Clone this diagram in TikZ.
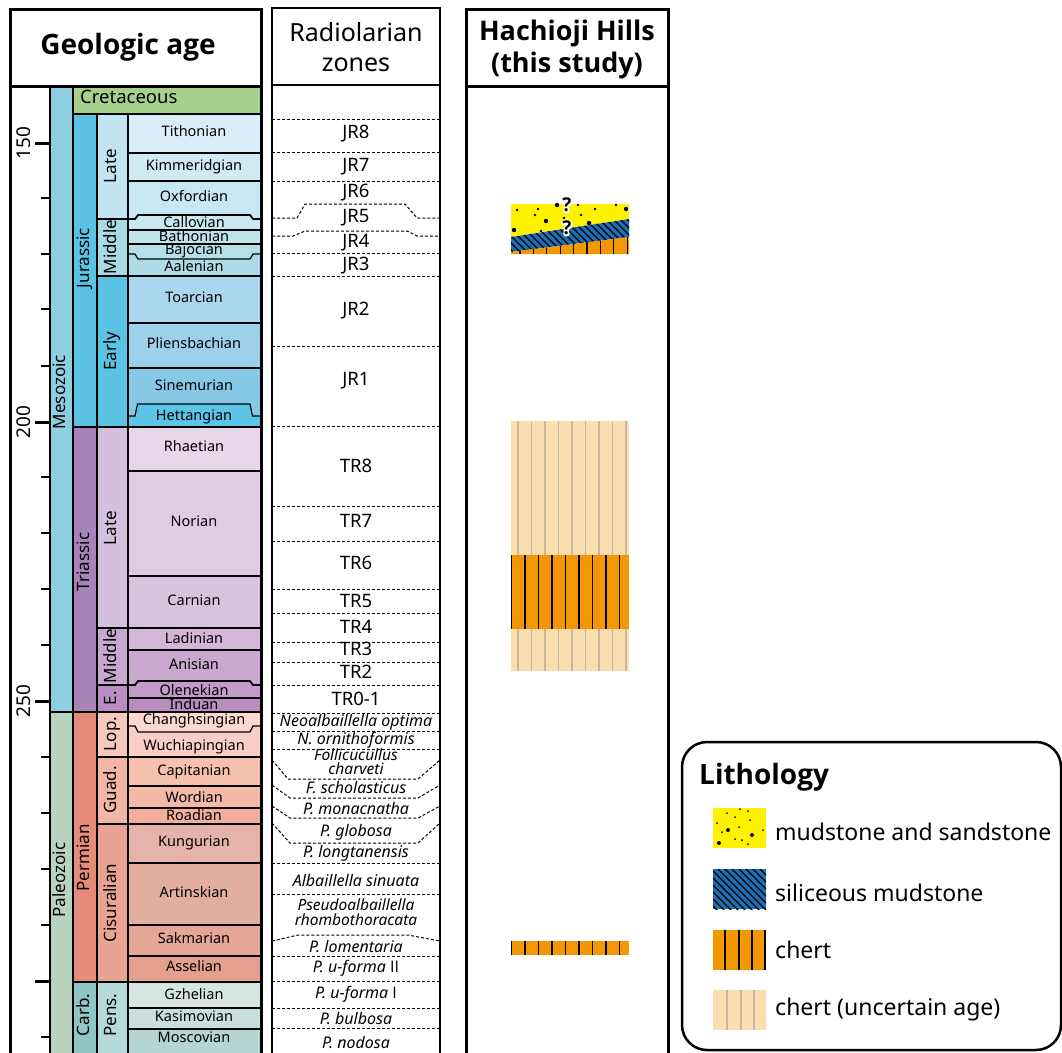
\documentclass[tikz,border=0pt]{standalone}
\usepackage{fontspec}
\setmainfont{Noto Sans}
\newfontfamily\bff{Open Sans}
\newfontfamily\halofont{Open Sans}[BoldFeatures={FakeBold=16}]
\definecolor{meso}{HTML}{8DCFE0}
\definecolor{paleo}{HTML}{B9D3C1}
\definecolor{cret}{HTML}{A8D08D}
\definecolor{jur}{HTML}{5AC3E3}
\definecolor{ljur}{HTML}{C3E4F3}
\definecolor{mjur}{HTML}{A8DAE4}
\definecolor{ejur}{HTML}{5AC3E3}
\definecolor{tith}{HTML}{D9EEF9}
\definecolor{kimm}{HTML}{CFE9F5}
\definecolor{oxf}{HTML}{C9E6F4}
\definecolor{callov}{HTML}{C8E8EF}
\definecolor{bathon}{HTML}{BFE4EC}
\definecolor{bajoc}{HTML}{B5DFE9}
\definecolor{aalen}{HTML}{ADDBE7}
\definecolor{toarc}{HTML}{ABD7EE}
\definecolor{pliens}{HTML}{9DD1EA}
\definecolor{sinem}{HTML}{88C8E7}
\definecolor{hett}{HTML}{5CC4E6}
\definecolor{tri}{HTML}{A883B8}
\definecolor{ltri}{HTML}{D3C0DE}
\definecolor{mtri}{HTML}{C9A7D1}
\definecolor{etri}{HTML}{B98DC1}
\definecolor{rhaet}{HTML}{E7D7E9}
\definecolor{nor}{HTML}{DFCCE3}
\definecolor{carn}{HTML}{D7C2DF}
\definecolor{ladin}{HTML}{D5B6D9}
\definecolor{anis}{HTML}{CBA8D0}
\definecolor{olen}{HTML}{C29BC8}
\definecolor{ind}{HTML}{B98DC0}
\definecolor{perm}{HTML}{E68B79}
\definecolor{lop}{HTML}{F7C9BD}
\definecolor{guad}{HTML}{F3B5A6}
\definecolor{cis}{HTML}{E9A393}
\definecolor{chang}{HTML}{FBD9D0}
\definecolor{wuch}{HTML}{F9CFC5}
\definecolor{capit}{HTML}{F6C0AF}
\definecolor{word}{HTML}{F5B9A8}
\definecolor{road}{HTML}{F3AF9E}
\definecolor{kung}{HTML}{E5B3A9}
\definecolor{artin}{HTML}{E3AEA0}
\definecolor{sakm}{HTML}{E4A697}
\definecolor{assel}{HTML}{E3A08F}
\definecolor{carb}{HTML}{8FC6C6}
\definecolor{pens}{HTML}{B6D9D9}
\definecolor{gzhel}{HTML}{D7E5E2}
\definecolor{kasim}{HTML}{C9DFDD}
\definecolor{mosc}{HTML}{B4D5D1}
\definecolor{yel}{HTML}{FFF200}
\definecolor{sil}{HTML}{1F6EB4}
\definecolor{chert}{HTML}{F39800}
\definecolor{chertu}{HTML}{FADEB0}
\definecolor{chertul}{HTML}{C9B79B}
\newcommand\qmark{\makebox[0pt]{\halofont\bfseries\color{white}?}\makebox[0pt]{\bff\bfseries ?}}
\def\stagelist{Tithonian/114/153/tith/133,Kimmeridgian/153/181/kimm/167,Oxfordian/181/219/oxf/198,Callovian/219/230/callov/224,Bathonian/230/244/bathon/238,Bajocian/244/254/bajoc/251,Aalenian/254/276/aalen/268,Toarcian/276/323/toarc/299,Pliensbachian/323/368/pliens/345,Sinemurian/368/416/sinem/387,Hettangian/416/427/hett/417,Rhaetian/427/471/rhaet/448,Norian/471/576/nor/523,Carnian/576/628/carn/602,Ladinian/628/650/ladin/640,Anisian/650/685/anis/666,Olenekian/685/698/olen/692,Induan/698/712/ind/706,Changhsingian/712/726/chang/721,Wuchiapingian/726/757/wuch/747,Capitanian/757/786/capit/772,Wordian/786/808/word/799,Roadian/808/824/road/817,Kungurian/824/863/kung/843,Artinskian/863/925/artin/894,Sakmarian/925/956/sakm/940,Asselian/956/982/assel/968,Gzhelian/982/1008/gzhel/996,Kasimovian/1008/1029/kasim/1018,Moscovian/1029/1060/mosc/1039}
\def\epochlist{LJ/114/219/ljur/166/Late,MJ/219/276/mjur/247/Middle,EJ/276/427/ejur/351/Early,LT/427/628/ltri/528/Late,MT/628/685/mtri/656/Middle,ET/685/712/etri/698/E.,Lop/712/757/lop/734/Lop.,Guad/757/824/guad/790/Guad.,Cis/824/982/cis/903/Cisuralian,Pens/982/1060/pens/1015/Pens.}
\def\periodlist{Jur/114/427/jur/258/Jurassic,Tri/427/712/tri/562/Triassic,Perm/712/982/perm/858/Permian,Carb/982/1060/carb/1015/Carb.}
\def\eralist{Meso/86/712/meso/392/Mesozoic,Paleo/712/1060/paleo/880/Paleozoic}
\begin{document}
\begin{tikzpicture}[x=1pt,y=-1pt,
  thk/.style={line width=2.5pt},
  thn/.style={line width=1.2pt},
  dsh/.style={line width=1pt,dash pattern=on 3pt off 2pt},
  stg/.style={font=\fontsize{14.5}{16}\selectfont,inner sep=0pt,text height=0.72em,text depth=0pt},
  rot/.style={rotate=90,font=\fontsize{17}{19}\selectfont,inner sep=0pt,text height=0.72em,text depth=0pt},
  rz/.style={font=\fontsize{18.5}{20}\selectfont,inner sep=0pt,text height=0.72em,text depth=0pt},
  rzi/.style={font=\fontsize{16}{13}\selectfont\itshape,inner sep=0pt,align=center},
  rzs/.style={font=\fontsize{15.5}{13}\selectfont\itshape,inner sep=0pt,text height=0.72em,text depth=0pt},
  lg/.style={font=\fontsize{23}{26}\selectfont,anchor=west,inner sep=0pt},
  qm/.style={font=\fontsize{19}{20}\selectfont,inner sep=0pt},
]
\useasboundingbox (0,0) rectangle (1062,1052);
\clip (0,0) rectangle (1062,1052);
\fill[white] (0,0) rectangle (1062,1052);
% ---------- fills of the time scale
\foreach \n/\t/\b/\c/\ly in \stagelist {\fill[fill=\c] (128,\t) rectangle (260,\b);}
\fill[callov] (137,215) rectangle (251,219);
\fill[bajoc] (137,254) rectangle (251,259);
\fill[hett] (137,404) rectangle (251,416);
\fill[olen] (137,681) rectangle (251,685);
\fill[chang] (137,726) rectangle (251,732);
\foreach \n/\t/\b/\c/\ly/\tx in \epochlist {\fill[fill=\c] (97,\t) rectangle (128,\b);}
\foreach \n/\t/\b/\c/\ly/\tx in \periodlist {\fill[fill=\c] (73,\t) rectangle (97,\b);}
\foreach \n/\t/\b/\c/\ly/\tx in \eralist {\fill[fill=\c] (50,\t) rectangle (73,\b);}
\fill[cret] (73,86) rectangle (260,114);
% ---------- labels
\foreach \n/\t/\b/\c/\ly in \stagelist {\node[stg] (\n) at (194,\ly) {\n};}
\foreach \n/\t/\b/\c/\ly/\tx in \epochlist {\node[rot] (\n) at (113,\ly) {\tx};}
\foreach \n/\t/\b/\c/\ly/\tx in \periodlist {\node[rot] (\n) at (85.5,\ly) {\tx};}
\foreach \n/\t/\b/\c/\ly/\tx in \eralist {\node[rot] (\n) at (62,\ly) {\tx};}
\node[font=\fontsize{18.5}{20}\selectfont,anchor=west,inner sep=0pt,text height=0.72em,text depth=0pt] (Cret) at (80,100) {Cretaceous};
\node[font=\bff\fontsize{28}{30}\selectfont\bfseries,inner sep=0pt] (hGeo) at (128,47) {Geologic age};
% ---------- lines of the time scale
\foreach \y in {153,181,230,244,323,368,471,576,650,698,786,808,863,925,956,1008,1029}
  \draw[thn] (128,\y) -- (260,\y);
\draw[line width=1.8pt] (128,219) -- (135,219) -- (138,215) -- (250,215) -- (253,219) -- (260,219);
\draw[thn] (128,254) -- (135,254) -- (138,259) -- (250,259) -- (253,254) -- (260,254);
\draw[thn] (128,416) -- (135,416) -- (137.5,404) -- (250,404) -- (252.5,416) -- (260,416);
\draw[line width=1.8pt] (128,685) -- (135,685) -- (138,681) -- (250,681) -- (253,685) -- (260,685);
\draw[thn] (128,726) -- (135,726) -- (138,732) -- (250,732) -- (253,726) -- (260,726);
\draw[thk] (97,219) -- (128,219);
\draw[thk] (97,685) -- (128,685);
\foreach \y in {276,628,757,824} \draw[thk] (97,\y) -- (260,\y);
\foreach \y in {114,427,982} \draw[thk] (73,\y) -- (260,\y);
\draw[thk] (50,712) -- (260,712);
\draw[thk] (50,86) -- (50,1060);
\draw[thk] (73,86) -- (73,1060);
\draw[thk] (97,114) -- (97,1060);
\draw[thk] (128,114) -- (128,1060);
% ticks
\foreach \y in {198,254,309,366,477,533,589,645,757,813,869,925,1037} \draw[thk] (41,\y) -- (50,\y);
\foreach \y in {143,422,701,981} \draw[line width=3pt] (35,\y) -- (50,\y);
\node[rot,font=\fontsize{19}{21}\selectfont] (t150) at (27,143) {150};
\node[rot,font=\fontsize{19}{21}\selectfont] (t200) at (27,422) {200};
\node[rot,font=\fontsize{19}{21}\selectfont] (t250) at (27,701) {250};
% frame
\draw[line width=3pt] (10,9) rectangle (261,1070);
\draw[line width=3pt] (10,86) -- (261,86);
% ---------- radiolarian zones
\draw[line width=1.3pt] (272,8) rectangle (440,1070);
\draw[line width=1.3pt] (272,85) -- (440,85);
\node[font=\fontsize{25}{30}\selectfont,align=center,inner sep=0pt] (hRad) at (356,47) {Radiolarian\\zones};
\foreach \y in {119,152,181,253,276,346,426,506,541,589,613,642,662,685,713,731,749,863,894,956,981,1008,1028}
  \draw[dsh] (272,\y) -- (440,\y);
\draw[dsh] (272,218) -- (297,218) -- (305,204) -- (405,204) -- (417,218) -- (440,218);
\draw[dsh] (272,236) -- (293,236) -- (305,231) -- (407,231) -- (417,236) -- (440,236);
\draw[dsh] (272,760) -- (288,779) -- (418,779) -- (440,760);
\draw[dsh] (272,785) -- (290,798) -- (418,798) -- (440,785);
\draw[dsh] (272,806) -- (290,818) -- (418,818) -- (440,806);
\draw[dsh] (272,823) -- (290,843) -- (418,843) -- (440,823);
\draw[dsh] (272,941) -- (298,935) -- (408,935) -- (440,941);
\foreach \n/\y in {JR8/135,JR7/168,JR6/194,JR5/219,JR4/244,JR3/267,JR2/312,JR1/382,TR8/469,TR7/524,TR6/566,TR5/604,TR4/630,TR3/652,TR2/675,TR0-1/702}
  \node[rz] (z\n) at (356,\y) {\n};
\node[rzi] (r1) at (356,722) {Neoalbaillella optima};
\node[rzi] (r2) at (356,740) {N. ornithoformis};
\node[rzs] (r3a) at (356,757) {Follicucullus};
\node[rzs,text height=0.55em] (r3b) at (356,772) {charveti};
\node[rzi] (r4) at (356,788) {F. scholasticus};
\node[rzi] (r5) at (356,809) {P. monacnatha};
\node[rzi] (r6) at (356,832) {P. globosa};
\node[rzi] (r7) at (356,853) {P. longtanensis};
\node[rzi] (r8) at (356,880) {Albaillella sinuata};
\node[rzs] (r9a) at (356,907) {Pseudoalbaillella};
\node[rzs,text height=0.55em] (r9b) at (356,923) {rhombothoracata};
\node[rzi] (r10) at (356,947) {P. lomentaria};
\node[rzi] (r11) at (356,968) {P. u-forma {\bff\upshape II}};
\node[rzi] (r12) at (356,994) {P. u-forma {\bff\upshape I}};
\node[rzi] (r13) at (356,1019) {P. bulbosa};
\node[rzi] (r14) at (356,1043) {P. nodosa};
% ---------- Hachioji Hills column
\draw[line width=3pt] (466,9) rectangle (668,1070);
\draw[line width=3pt] (466,86) -- (668,86);
\node[font=\bff\fontsize{27}{32}\selectfont\bfseries,align=center,inner sep=0pt] (hHach) at (567,49) {Hachioji Hills\\(this study)};
% uncertain chert
\fill[chertu] (511,421) rectangle (629,671);
\foreach \k in {0,...,8} \draw[chertul,line width=1.2pt] (518+13.5*\k,421) -- (518+13.5*\k,671);
% chert
\fill[chert] (511,555) rectangle (629,629);
\foreach \k in {0,...,8} \draw[line width=1.3pt] (511.5+13.5*\k,555) -- (511.5+13.5*\k,629);
\fill[chert] (511,941) rectangle (629,955);
\foreach \k in {0,...,8} \draw[line width=1.3pt] (511.5+13.5*\k,941) -- (511.5+13.5*\k,955);
% top block
\fill[yel] (511,204) -- (629,204) -- (629,219) -- (511,237) -- cycle;
\foreach \px/\py/\r in {517/210/1.3,538/209/1.3,557/205/2.2,578/205/1.3,595/209/1.3,616/205/1.3,626/209/2.2,535/215/1.3,581/215/1.3,546/221/2.2,564/218/1.3,589/223/2.2,514/230/2.2,541/231/1.3}
  \fill (\px,\py) circle (\r);
\fill[sil] (511,237) -- (629,219) -- (629,237) -- (511,252) -- cycle;
\begin{scope}
\clip (511,237) -- (629,219) -- (629,237) -- (511,252) -- cycle;
\foreach \i in {0,...,26} \draw[line width=1.3pt] (440+7*\i,200) -- ++(70,70);
\end{scope}
\fill[chert] (511,252) -- (629,237) -- (629,254) -- (511,254) -- cycle;
\begin{scope}
\clip (511,252) -- (629,237) -- (629,254) -- (511,254) -- cycle;
\foreach \k in {0,...,8} \draw[line width=1.3pt] (520+13.4*\k,230) -- (520+13.4*\k,254);
\end{scope}
\node[qm] (qA) at (567,205) {\qmark};
\node[qm] (qB) at (567,228) {\qmark};
% ---------- legend
\draw[line width=2.5pt,rounded corners=25pt,fill=white] (682,742) rectangle (1061,1050);
\node[font=\bff\fontsize{28}{30}\selectfont\bfseries,anchor=west,inner sep=0pt] (hLith) at (699,777) {Lithology};
\fill[yel] (713,808) rectangle (766,848);
\foreach \px/\py/\r in {727/813/1,740/809/1,748/811/1,735/817/1,750/820/1,717/823/1,739/827/1,728/830/2,722/832/1,763/830/1,752/835/2,735/839/1,742/840/1,719/843/2,748/844/1}
  \fill (\px,\py) circle (\r);
\fill[sil] (713,869) rectangle (766,909);
\begin{scope}
\clip (713,869) rectangle (766,909);
\foreach \i in {0,...,14} \draw[line width=1.3pt] (666+7*\i,866) -- ++(46,46);
\end{scope}
\fill[chert] (713,930) rectangle (766,970);
\foreach \x in {725,739,752,765} \draw[line width=1.3pt] (\x,930) -- (\x,970);
\fill[chertu] (713,990) rectangle (766,1030);
\foreach \x in {727,741,754} \draw[chertul,line width=1.2pt] (\x,990) -- (\x,1030);
\node[lg] (l1) at (775,832) {mudstone and sandstone};
\node[lg] (l2) at (775,893) {siliceous mudstone};
\node[lg] (l3) at (775,950) {chert};
\node[lg] (l4) at (775,1010) {chert (uncertain age)};
\end{tikzpicture}
\end{document}
